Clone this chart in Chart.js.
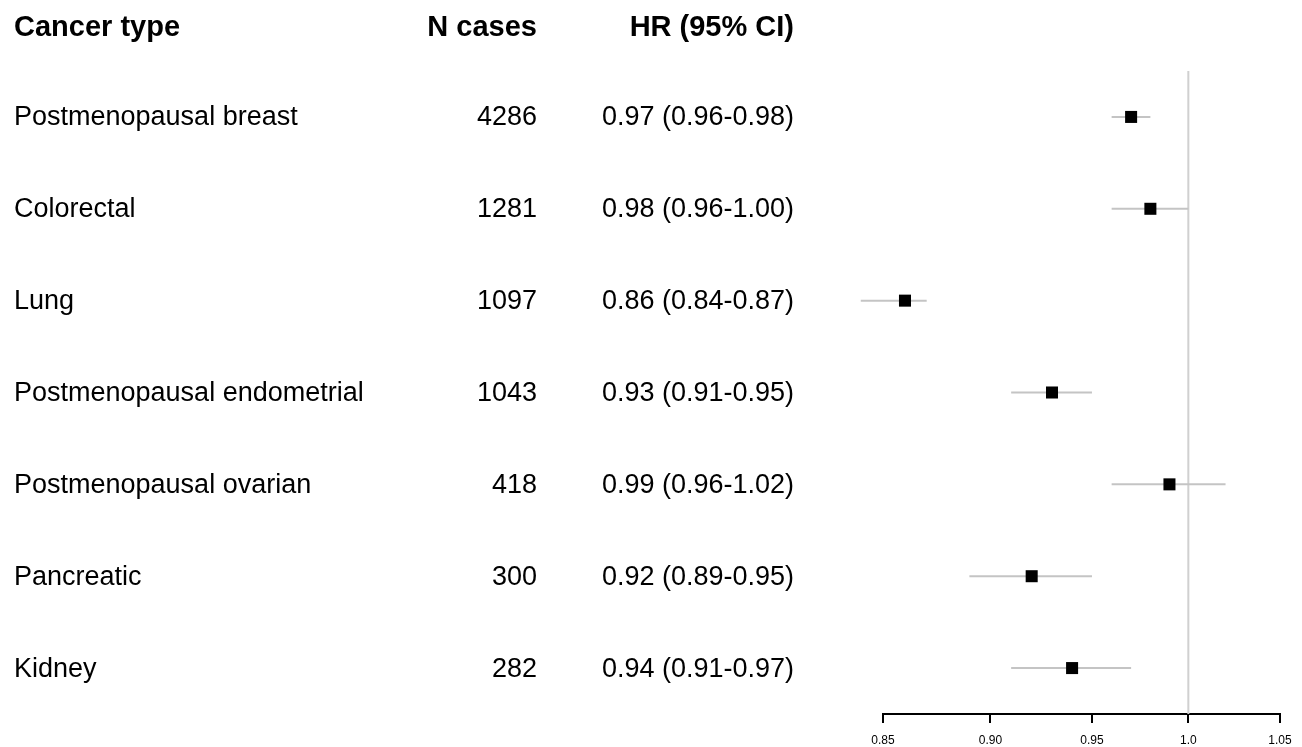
<!DOCTYPE html>
<html>
<head>
<meta charset="utf-8">
<script src="https://cdn.jsdelivr.net/npm/chart.js@4/dist/chart.umd.min.js"></script>
<style>
  html, body { margin: 0; padding: 0; background: #fff; }
  #wrap { width: 1302px; height: 747px; position: relative; }
</style>
</head>
<body>
<div id="wrap"><canvas id="forestChart"></canvas></div>
<script>
//----------------------------- Data -----------------------------------
const cancerTypes = ['Postmenopausal breast', 'Colorectal', 'Lung', 'Postmenopausal endometrial', 'Postmenopausal ovarian', 'Pancreatic', 'Kidney'];
const nCases = [4286, 1281, 1097, 1043, 418, 300, 282];
const hr = [0.97, 0.98, 0.86, 0.93, 0.99, 0.92, 0.94];
const ciLow = [0.96, 0.96, 0.84, 0.91, 0.96, 0.89, 0.91];
const ciHigh = [0.98, 1.00, 0.87, 0.95, 1.02, 0.95, 0.97];
const tickValues = [0.85, 0.90, 0.95, 1.0, 1.05];
const tickLabels = ['0.85', '0.90', '0.95', '1.0', '1.05'];
const headers = ['Cancer type', 'N cases', 'HR (95% CI)'];

const fontFamily = '"Liberation Sans", Arial, Helvetica, sans-serif';

//----------------------------- Datasets -----------------------------------
const datasets = [];
datasets.push({
    label: 'HR',
    data: hr.map((v, i) => ({ x: v, y: i + 1 })),
    showLine: false,
    pointStyle: 'rect',
    pointRadius: 8.5,
    pointBorderWidth: 0,
    pointBackgroundColor: '#000',
    clip: false,
    order: 0
});
hr.forEach((v, i) => {
    datasets.push({
        label: 'CI ' + cancerTypes[i],
        data: [{ x: ciLow[i], y: i + 1 }, { x: ciHigh[i], y: i + 1 }],
        showLine: true,
        borderColor: '#c4c4c4',
        borderWidth: 2,
        pointRadius: 0,
        clip: false,
        order: 1
    });
});
datasets.push({
    label: 'ref',
    data: [{ x: 1, y: 0.5 }, { x: 1, y: 7.5 }],
    showLine: true,
    borderColor: '#d0d0d0',
    borderWidth: 2,
    pointRadius: 0,
    order: 2
});

// text columns on the left, placed on the same rows as the y scale
const textColumns = {
    id: 'textColumns',
    afterDraw(chart) {
        const ctx = chart.ctx;
        const y = chart.scales.y;
        ctx.save();
        ctx.fillStyle = '#000';
        ctx.textBaseline = 'middle';
        ctx.font = 'bold 29px ' + fontFamily;
        ctx.textAlign = 'left';
        ctx.fillText(headers[0], 14, 28);
        ctx.textAlign = 'right';
        ctx.fillText(headers[1], 537, 28);
        ctx.fillText(headers[2], 794, 28);
        ctx.font = '27px ' + fontFamily;
        cancerTypes.forEach((name, i) => {
            const py = y.getPixelForValue(i + 1) + 1;
            ctx.textAlign = 'left';
            ctx.fillText(name, 14, py);
            ctx.textAlign = 'right';
            ctx.fillText(String(nCases[i]), 537, py);
            ctx.fillText(hr[i].toFixed(2) + ' (' + ciLow[i].toFixed(2) + '-' + ciHigh[i].toFixed(2) + ')', 794, py);
        });
        ctx.restore();
    }
};

const ctx = document.getElementById('forestChart');
new Chart(ctx, {
    type: 'scatter',
    data: { datasets: datasets },
    options: {
        responsive: true,
        maintainAspectRatio: false,
        animation: false,
        layout: {
            padding: { left: 883, right: 22, top: 71, bottom: 0 }
        },
        plugins: {
            legend: { display: false },
            tooltip: { enabled: false }
        },
        scales: {
            x: {
                type: 'logarithmic',
                min: 0.85,
                max: 1.05,
                afterBuildTicks: (scale) => {
                    scale.ticks = tickValues.map(v => ({ value: v }));
                },
                afterFit: (scale) => {
                    scale.height = 33;
                },
                border: { display: true, color: '#000', width: 2 },
                grid: {
                    display: true,
                    drawOnChartArea: false,
                    drawTicks: true,
                    tickLength: 9,
                    color: '#000',
                    lineWidth: 2
                },
                ticks: {
                    autoSkip: false,
                    maxRotation: 0,
                    padding: 10,
                    color: '#000',
                    font: { family: fontFamily, size: 12 },
                    callback: (value, index) => tickLabels[index]
                }
            },
            y: {
                type: 'linear',
                min: 0.5,
                max: 7.5,
                reverse: true,
                display: false
            }
        }
    },
    plugins: [textColumns]
});
</script>
</body>
</html>
